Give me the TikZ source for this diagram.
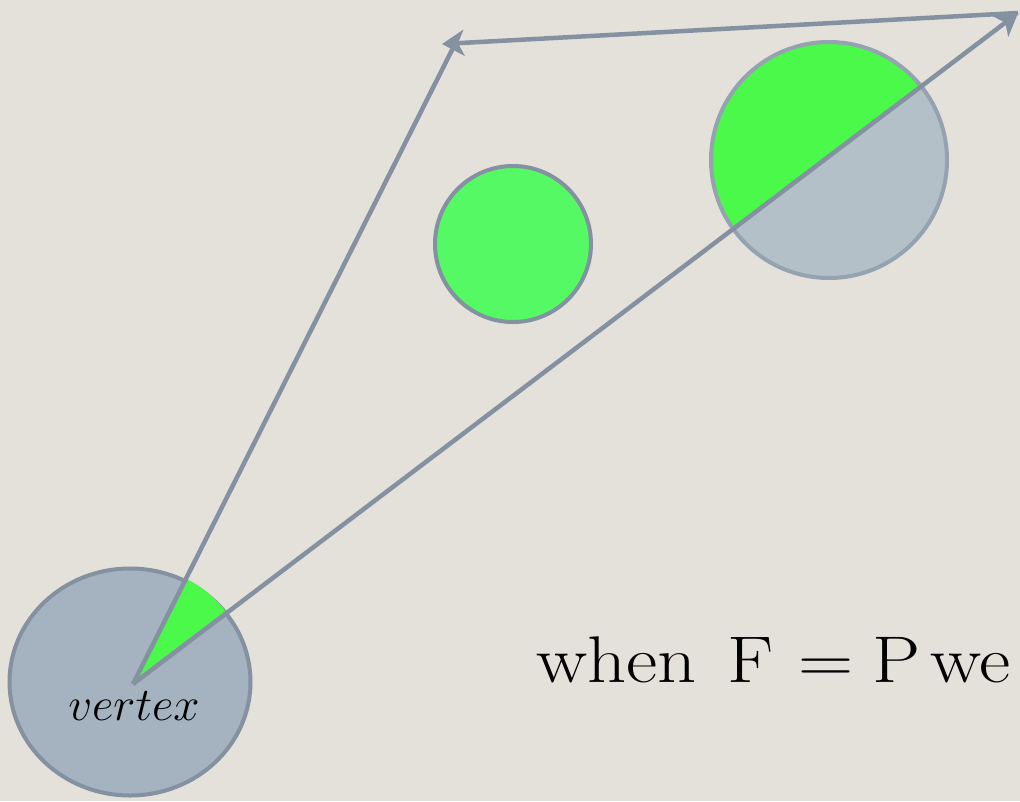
\documentclass[tikz,border=0pt]{standalone}
\usepackage{fix-cm}
\usepackage{amsmath}
\usepackage{xcolor}
\usetikzlibrary{arrows.meta, positioning, calc, shapes.geometric}
\definecolor{paper}{HTML}{E4E1DB}
\definecolor{slate}{HTML}{8491A1}
\definecolor{slatefill}{HTML}{A4B3BF}
\definecolor{palefill}{HTML}{B4C0C8}
\definecolor{paleline}{HTML}{95A2B0}
\definecolor{lit}{HTML}{54F964}
\definecolor{litdark}{HTML}{4AF94A}

\begin{document}
\begin{tikzpicture}[x=1pt, y=-1pt,
  ray/.style={draw=slate, line width=4.5pt},
  tip/.style={-{Stealth[length=22pt, width=26pt, inset=6pt]}},
  ball/.style={circle, draw=slate, line width=4pt, inner sep=0pt}]
\useasboundingbox (0,0) rectangle (1020,801);
\fill[paper] (0,0) rectangle (1020,801);
\clip (0,0) rectangle (1020,801);

% vertex disc and the far corners of the rays
\node[ellipse, draw=slate, fill=slatefill, line width=4pt, minimum width=241pt, minimum height=227pt] (vdisc) at (130,682) {};
\coordinate (o) at (133,684);
\coordinate (apex) at (442,44);
\coordinate (far) at (1018,13);
\node[font=\fontsize{47}{47}\selectfont, anchor=base, inner sep=0pt] (vlabel) at (134,720) {$vertex$};

% visible wedge at the vertex
\fill[litdark] ($(o)+(6,-8)$) -- ++(-63:108) arc[start angle=-63, end angle=-37, radius=108] -- cycle;

% occluder in the middle
\node[ball, fill=lit, minimum size=156pt] (blob) at (513,244) {};

% partially visible occluder on the right
\node[circle, fill=palefill, minimum size=236pt, inner sep=0pt] (half) at (829,160) {};
\begin{scope}
  \clip (829,160) circle (117);
  \fill[litdark] (o) -- (far) -- (o |- far) -- cycle;
\end{scope}
\node[circle, draw=paleline, line width=4pt, minimum size=236pt, inner sep=0pt] at (half.center) {};

% rays
\draw[ray] (o) -- ($(apex)+(12,2)$);
\draw[ray, tip] (far) -- (apex);
\draw[ray, tip] (o) -- (far);

\node[anchor=base west, font=\fontsize{66}{66}\selectfont, inner sep=0pt] (note) at (536,682) {\scalebox{1.16}[1]{when\hspace{27pt}F\hspace{21pt}=\hspace{16pt}P\hspace{9pt}we\hspace{22pt}g}};
\end{tikzpicture}
\end{document}
